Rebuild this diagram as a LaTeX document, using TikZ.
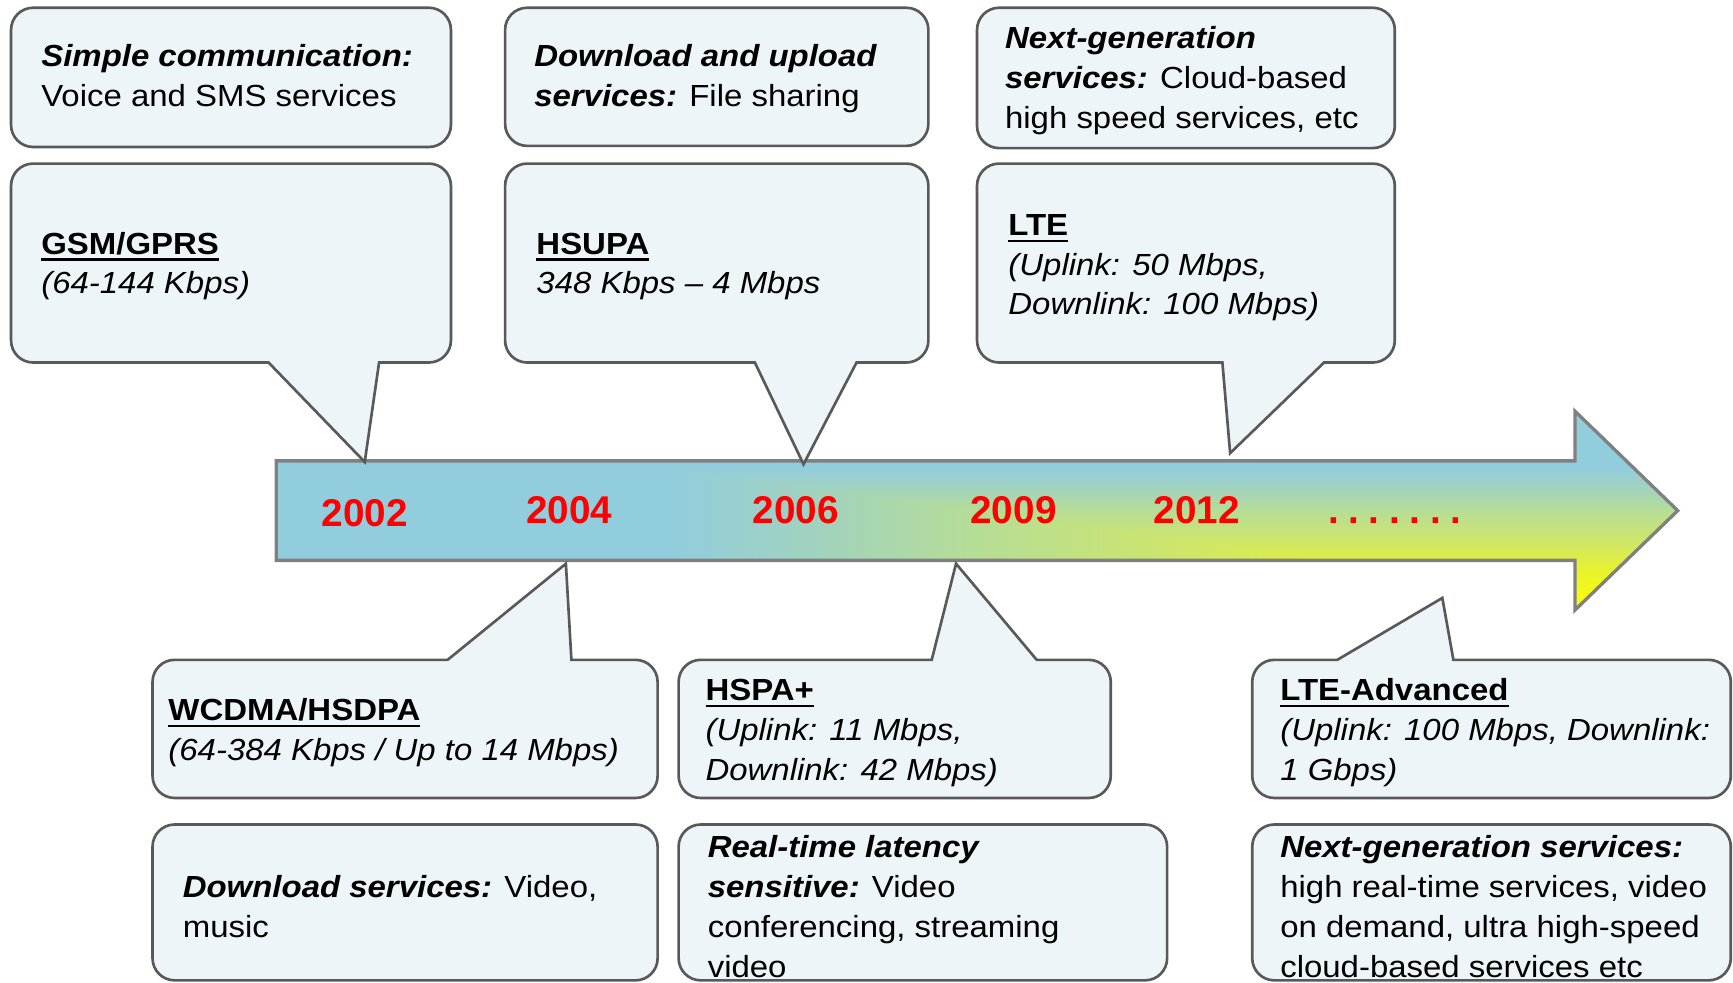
\documentclass[tikz,border=0pt]{standalone}
\usepackage{fontspec}
\setmainfont[FakeStretch=1.08]{Liberation Sans}
\newfontfamily\yearfont{Liberation Sans}
\definecolor{ablue}{RGB}{146,205,221}
\definecolor{acA}{RGB}{160,210,192}
\definecolor{acB}{RGB}{182,221,150}
\definecolor{acC}{RGB}{207,230,105}
\definecolor{acD}{RGB}{232,242,45}
\definecolor{ayellow}{RGB}{255,255,0}
\definecolor{cfill}{RGB}{238,245,249}
\definecolor{cgray}{RGB}{89,89,89}
\definecolor{agray}{RGB}{128,128,128}
\pgfdeclarehorizontalshading{arrowH}{100bp}{color(0bp)=(ablue); color(25bp)=(ablue); color(39bp)=(ablue); color(44bp)=(acA); color(50bp)=(acB); color(57.5bp)=(acC); color(65bp)=(acD); color(75bp)=(ayellow); color(100bp)=(ayellow)}
\pgfdeclareverticalshading{arrowV}{100bp}{color(0bp)=(ayellow); color(25bp)=(ayellow); color(35bp)=(acD); color(42.5bp)=(acC); color(50bp)=(acB); color(56bp)=(acA); color(61bp)=(ablue); color(75bp)=(ablue); color(100bp)=(ablue)}
\newcommand\txtsize{\fontsize{13.8}{18}\selectfont}
\newcommand\bitx[1]{\textbf{\textit{#1}}}
\newcommand\myul[1]{\setbox0\hbox{#1}\rlap{\rule[-3pt]{\wd0}{1.1pt}}\box0}
\newcommand\hd[1]{\myul{\textbf{#1}}}
\newcommand\lines[1]{\begin{tabular}[t]{@{}l@{}}#1\end{tabular}}
\begin{document}
\begin{tikzpicture}[x=0.5pt,y=-0.5pt,
  callout/.style={draw=cgray, line width=1.2pt, fill=cfill, line join=miter},
  txt/.style={anchor=base west, inner sep=0pt, font=\txtsize},
  yr/.style={anchor=base, inner sep=0pt, text=red, font=\yearfont\fontsize{17.5}{20}\selectfont\bfseries}]
\useasboundingbox (0,0) rectangle (1568,889);
\clip (0,0) rectangle (1568,889);
% timeline arrow
\def\arrowpath{(250,417) -- (1425,417) -- (1425,372) -- (1518,462) -- (1425,552) -- (1425,507) -- (250,507) -- cycle}
\begin{scope}
  \clip \arrowpath;
  \shade[shading=arrowV] (250,372) rectangle (1518,552);
  \clip (250,372) -- (1518,552) -- (250,552) -- cycle;
  \shade[shading=arrowH] (250,372) rectangle (1518,552);
\end{scope}
\draw[agray, line width=1.5pt, line join=miter] \arrowpath;
% top row service boxes
\draw[callout, rounded corners=10pt] (10,7) rectangle (408,133);
\draw[callout, rounded corners=10pt] (457,7) rectangle (840,132);
\draw[callout, rounded corners=10pt] (884,7) rectangle (1262,134);
% callouts above the arrow
\draw[callout] (343,328) [rounded corners=10pt] -- (408,328) -- (408,148) -- (10,148) -- (10,328) [sharp corners] -- (243,328) -- (330,418) -- cycle;
\draw[callout] (775,328) [rounded corners=10pt] -- (840,328) -- (840,148) -- (457,148) -- (457,328) [sharp corners] -- (683,328) -- (727,420) -- cycle;
\draw[callout] (1198,328) [rounded corners=10pt] -- (1262,328) -- (1262,148) -- (884,148) -- (884,328) [sharp corners] -- (1106,328) -- (1113,410) -- cycle;
% callouts below the arrow
\draw[callout] (517,597) [rounded corners=10pt] -- (595,597) -- (595,722) -- (138,722) -- (138,597) [sharp corners] -- (405,597) -- (512,510) -- cycle;
\draw[callout] (938,597) [rounded corners=10pt] -- (1005,597) -- (1005,722) -- (614,722) -- (614,597) [sharp corners] -- (843,597) -- (865,510) -- cycle;
\draw[callout] (1315,597) [rounded corners=10pt] -- (1566,597) -- (1566,722) -- (1133,722) -- (1133,597) [sharp corners] -- (1210,597) -- (1305,541) -- cycle;
% bottom row service boxes
\draw[callout, rounded corners=10pt] (138,746) rectangle (595,887);
\draw[callout, rounded corners=10pt] (614,746) rectangle (1056,887);
\draw[callout, rounded corners=10pt] (1133,746) rectangle (1566,887);
% texts
\node[txt] (s1) at (37,60) {\lines{\bitx{Simple communication:}\\ Voice and SMS services}};
\node[txt] (s2) at (483,60) {\lines{\bitx{Download and upload}\\ \bitx{services:} File sharing}};
\node[txt] (s3) at (909,44) {\lines{\bitx{Next-generation}\\ \bitx{services:} Cloud-based\\ high speed services, etc}};
\node[txt] (t1) at (37,230) {\lines{\hd{GSM/GPRS}\\ \textit{(64-144 Kbps)}}};
\node[txt] (t2) at (485,230) {\lines{\hd{HSUPA}\\ \textit{348 Kbps – 4 Mbps}}};
\node[txt] (t3) at (912,213) {\lines{\hd{LTE}\\ \textit{(Uplink: 50 Mbps,}\\ \textit{Downlink: 100 Mbps)}}};
\node[txt] (t4) at (152,652) {\lines{\hd{WCDMA/HSDPA}\\ \textit{(64-384 Kbps / Up to 14 Mbps)}}};
\node[txt] (t5) at (638,634) {\lines{\hd{HSPA+}\\ \textit{(Uplink: 11 Mbps,}\\ \textit{Downlink: 42 Mbps)}}};
\node[txt] (t6) at (1158,634) {\lines{\hd{LTE-Advanced}\\ \textit{(Uplink: 100 Mbps, Downlink:}\\ \textit{1 Gbps)}}};
\node[txt] (s4) at (165,812) {\lines{\bitx{Download services:} Video,\\ music}};
\node[txt] (s5) at (640,776) {\lines{\bitx{Real-time latency}\\ \bitx{sensitive:} Video\\ conferencing, streaming\\ video}};
\node[txt] (s6) at (1158,776) {\lines{\bitx{Next-generation services:}\\ high real-time services, video\\ on demand, ultra high-speed\\ cloud-based services etc}};
% years
\node[yr] (y1) at (330,476) {2002};
\node[yr] (y2) at (515,474) {2004};
\node[yr] (y3) at (720,474) {2006};
\node[yr] (y4) at (917,474) {2009};
\node[yr] (y5) at (1083,474) {2012};
\node[yr] (y6) at (1262,474) {.\kern4.4pt.\kern4.4pt.\kern4.4pt.\kern4.4pt.\kern4.4pt.\kern4.4pt.};
\end{tikzpicture}
\end{document}
